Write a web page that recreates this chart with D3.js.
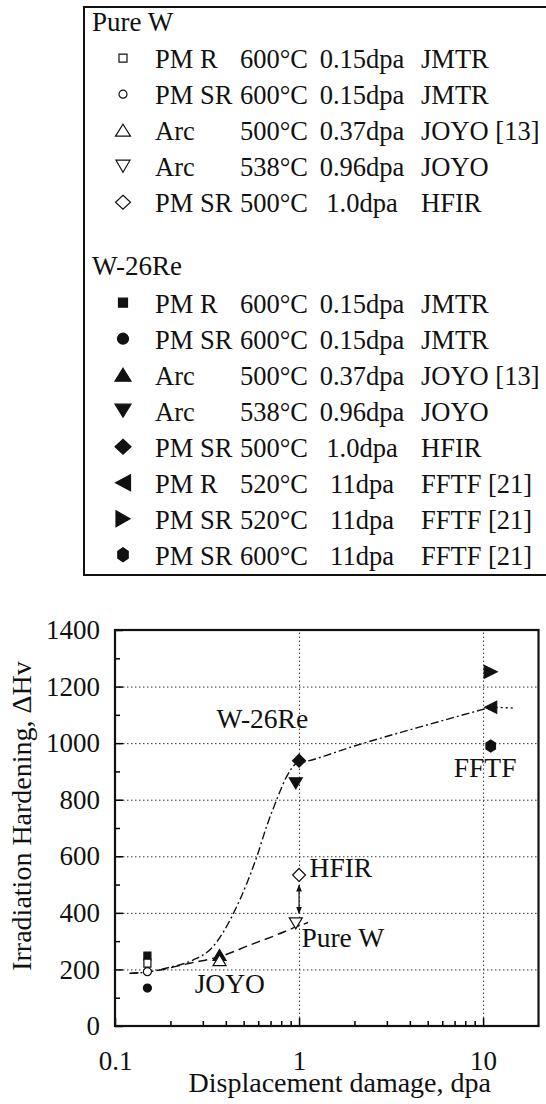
<!DOCTYPE html>
<html>
<head>
<meta charset="utf-8">
<script src="https://cdn.jsdelivr.net/npm/d3@7"></script>
<style>
  body { margin: 0; background: #fff; }
  svg text { font-family: "Liberation Serif", "Times New Roman", serif; fill: #111; }
</style>
</head>
<body>
<div id="chart"></div>
<script>
// ---- data ----
const pureDpa = [0.15, 0.15, 0.37, 0.96, 1.0];
const pureHv = [222, 192, 233, 363, 534];
const pureRows = [
  ["PM R", "600°C", "0.15dpa", "JMTR"],
  ["PM SR", "600°C", "0.15dpa", "JMTR"],
  ["Arc", "500°C", "0.37dpa", "JOYO [13]"],
  ["Arc", "538°C", "0.96dpa", "JOYO"],
  ["PM SR", "500°C", "1.0dpa", "HFIR"]
];
const reDpa = [0.15, 0.15, 0.37, 0.96, 1.0, 11, 11, 11];
const reHv = [247, 134, 251, 858, 938, 1127, 1252, 990];
const reRows = [
  ["PM R", "600°C", "0.15dpa", "JMTR"],
  ["PM SR", "600°C", "0.15dpa", "JMTR"],
  ["Arc", "500°C", "0.37dpa", "JOYO [13]"],
  ["Arc", "538°C", "0.96dpa", "JOYO"],
  ["PM SR", "500°C", "1.0dpa", "HFIR"],
  ["PM R", "520°C", "11dpa", "FFTF [21]"],
  ["PM SR", "520°C", "11dpa", "FFTF [21]"],
  ["PM SR", "600°C", "11dpa", "FFTF [21]"]
];

// trend lines (hand traced)
const reFitDpa = [0.12, 0.155, 0.2, 0.265, 0.34, 0.44, 0.52, 0.59, 0.665, 0.755, 0.855, 0.97, 1.07, 2, 5, 11];
const reFitHv = [186, 192, 208, 233, 280, 398, 504, 599, 704, 799, 881, 928, 934, 990, 1065, 1127];
const reExtDpa = [11, 15];
const reExtHv = [1127, 1124];
const pureFitDpa = [0.12, 0.155, 0.255, 0.37, 0.54, 0.755, 0.97, 1.12];
const pureFitHv = [186, 192, 222, 245, 286, 322, 351, 366];
const arrowHv = [398, 498];

const notes = [
  { t: "W-26Re", dpa: 0.356, hv: 1053 },
  { t: "JOYO", dpa: 0.271, hv: 117 },
  { t: "HFIR", dpa: 1.14, hv: 528 },
  { t: "Pure W", dpa: 1.03, hv: 280 },
  { t: "FFTF", dpa: 6.93, hv: 881 }
];

const yTicks = [0, 200, 400, 600, 800, 1000, 1200, 1400];
const xTicks = [0.1, 1, 10];

// ---- marker styles ----
const pureShapes = ["square", "circle", "triUp", "triDown", "diamond"];
const reShapes = ["square", "circle", "triUp", "triDown", "diamond", "triLeft", "triRight", "hexagon"];
const plotSize = { square: [7, 8], circle: [8, 8], triUp: [13, 11], triDown: [13, 11], diamond: [13, 13], triLeft: [12, 12], triRight: [13, 13], hexagon: [11, 12] };
const legendPureSize = { square: [8, 8], circle: [8, 8], triUp: [15, 12], triDown: [14, 12], diamond: [15, 14] };
const legendReSize = { square: [9, 9], circle: [11, 11], triUp: [16, 13], triDown: [16, 13], diamond: [16, 15], triLeft: [15, 16], triRight: [14, 16], hexagon: [12, 14] };

function shapePath(shape, w, h) {
  const p = d3.path();
  const a = w / 2, b = h / 2;
  if (shape === "square") { p.rect(-a, -b, w, h); }
  else if (shape === "circle") { p.moveTo(a, 0); p.arc(0, 0, a, 0, 2 * Math.PI); }
  else if (shape === "triUp") { p.moveTo(0, -b); p.lineTo(a, b); p.lineTo(-a, b); p.closePath(); }
  else if (shape === "triDown") { p.moveTo(0, b); p.lineTo(a, -b); p.lineTo(-a, -b); p.closePath(); }
  else if (shape === "diamond") { p.moveTo(0, -b); p.lineTo(a, 0); p.lineTo(0, b); p.lineTo(-a, 0); p.closePath(); }
  else if (shape === "triLeft") { p.moveTo(-a, 0); p.lineTo(a, -b); p.lineTo(a, b); p.closePath(); }
  else if (shape === "triRight") { p.moveTo(a, 0); p.lineTo(-a, -b); p.lineTo(-a, b); p.closePath(); }
  else if (shape === "hexagon") {
    for (let i = 0; i < 6; i++) {
      const ang = Math.PI / 6 + i * Math.PI / 3;
      const px = a * Math.cos(ang), py = b * Math.sin(ang);
      if (i === 0) p.moveTo(px, py); else p.lineTo(px, py);
    }
    p.closePath();
  }
  return p.toString();
}

const W = 546, H = 1104;
const svg = d3.select("#chart").append("svg").attr("width", W).attr("height", H);

// ---- legend box ----
svg.append("rect")
  .attr("x", 84).attr("y", 7).attr("width", 480).attr("height", 568)
  .attr("fill", "none").attr("stroke", "#111").attr("stroke-width", 2);

function legendGroup(title, rows, shapes, sizes, filled, y0) {
  svg.append("text").attr("x", 92).attr("y", y0).style("font-size", "27px").text(title);
  const g = svg.selectAll(null).data(rows).enter().append("g")
    .attr("transform", (d, i) => `translate(0,${y0 + 37.7 + i * 36})`);
  g.append("path")
    .attr("transform", "translate(123,-10)")
    .attr("d", (d, i) => shapePath(shapes[i], sizes[shapes[i]][0], sizes[shapes[i]][1]))
    .attr("fill", filled ? "#111" : "#fff")
    .attr("stroke", "#111").attr("stroke-width", 1.2);
  const t = (xp, anchor, k) => g.append("text").attr("x", xp).attr("text-anchor", anchor)
    .style("font-size", "26.5px").text(d => d[k]);
  t(155, "start", 0);
  t(240, "start", 1);
  t(362, "middle", 2);
  t(421, "start", 3);
}
legendGroup("Pure W", pureRows, pureShapes, legendPureSize, false, 30.5);
legendGroup("W-26Re", reRows, reShapes, legendReSize, true, 275);

// ---- plot ----
const pL = 115, pR = 538.5, pT = 630, pB = 1026;
const x = d3.scaleLog().domain([0.1, 20]).range([pL, pR]);
const y = d3.scaleLinear().domain([0, 1400]).range([pB, pT]);

// gridlines
svg.append("g").attr("transform", `translate(${pL},0)`)
  .call(d3.axisLeft(y).tickValues([200, 400, 600, 800, 1000, 1200]).tickSize(-(pR - pL)).tickFormat(""))
  .call(g => g.select(".domain").remove())
  .selectAll("line").attr("stroke", "#333").attr("stroke-width", 1).attr("stroke-dasharray", "1.5,2.5");
svg.append("g").attr("transform", `translate(0,${pB})`)
  .call(d3.axisBottom(x).tickValues([1, 10]).tickSize(-(pB - pT)).tickFormat(""))
  .call(g => g.select(".domain").remove())
  .selectAll("line").attr("stroke", "#333").attr("stroke-width", 1).attr("stroke-dasharray", "1.5,2.5");

// axes with inward ticks
const yAxis = svg.append("g").attr("transform", `translate(${pL},0)`)
  .call(d3.axisLeft(y).tickValues(yTicks).tickFormat(d3.format("d"))
    .tickSizeInner(-8).tickSizeOuter(0).tickPadding(15));
yAxis.select(".domain").remove();
yAxis.attr("font-family", null).attr("font-size", null);
yAxis.selectAll("text").style("font-size", "27px");
yAxis.selectAll("line").attr("stroke-width", 1.5);

svg.append("g").attr("transform", `translate(${pL},0)`)
  .call(d3.axisLeft(y).tickValues(d3.range(100, 1400, 200)).tickSize(-5).tickFormat(""))
  .call(g => g.select(".domain").remove())
  .selectAll("line").attr("stroke-width", 1.5);

const xAxis = svg.append("g").attr("transform", `translate(0,${pB})`)
  .call(d3.axisBottom(x).tickValues(xTicks).tickFormat(d => String(d))
    .tickSizeInner(-8).tickSizeOuter(0).tickPadding(25));
xAxis.select(".domain").remove();
xAxis.attr("font-family", null).attr("font-size", null);
xAxis.selectAll("text").style("font-size", "27px");
xAxis.selectAll("line").attr("stroke-width", 1.5);

const minorX = [];
[0.1, 1, 10].forEach(dec => { for (let k = 2; k <= 9; k++) if (dec * k < 20) minorX.push(dec * k); });
svg.append("g").attr("transform", `translate(0,${pB})`)
  .call(d3.axisBottom(x).tickValues(minorX).tickSize(-5).tickFormat(""))
  .call(g => g.select(".domain").remove())
  .selectAll("line").attr("stroke-width", 1.5);

// frame
svg.append("rect")
  .attr("x", pL).attr("y", pT).attr("width", pR - pL).attr("height", pB - pT)
  .attr("fill", "none").attr("stroke", "#111").attr("stroke-width", 2.2);

// axis titles
svg.append("text")
  .attr("x", (pL + pR) / 2 + 13).attr("y", 1092)
  .attr("text-anchor", "middle").style("font-size", "28px")
  .text("Displacement damage, dpa");
svg.append("text")
  .attr("transform", "rotate(-90)")
  .attr("x", -816).attr("y", 31)
  .attr("text-anchor", "middle").style("font-size", "28px")
  .text("Irradiation Hardening, ΔHv");

// trend lines
const line = d3.line().x(d => x(d[0])).y(d => y(d[1])).curve(d3.curveMonotoneX);
svg.append("path")
  .attr("d", line(d3.zip(reFitDpa, reFitHv)))
  .attr("fill", "none").attr("stroke", "#111").attr("stroke-width", 1.4)
  .attr("stroke-dasharray", "8,3,2,3");
svg.append("path")
  .attr("d", line(d3.zip(reExtDpa, reExtHv)))
  .attr("fill", "none").attr("stroke", "#111").attr("stroke-width", 1.4)
  .attr("stroke-dasharray", "2,3");
svg.append("path")
  .attr("d", line(d3.zip(pureFitDpa, pureFitHv)))
  .attr("fill", "none").attr("stroke", "#111").attr("stroke-width", 1.4)
  .attr("stroke-dasharray", "9,5");

// double arrow HFIR vs Pure W
const defs = svg.append("defs");
defs.append("marker").attr("id", "ah").attr("viewBox", "0 0 10 10")
  .attr("refX", 9).attr("refY", 5).attr("markerWidth", 6).attr("markerHeight", 6)
  .attr("orient", "auto-start-reverse")
  .append("path").attr("d", "M0,1 L10,5 L0,9 Z").attr("fill", "#111");
svg.append("line")
  .attr("x1", x(1)).attr("x2", x(1))
  .attr("y1", y(arrowHv[0])).attr("y2", y(arrowHv[1]))
  .attr("stroke", "#111").attr("stroke-width", 1.2)
  .attr("marker-start", "url(#ah)").attr("marker-end", "url(#ah)");

// markers
function drawPoints(dpa, hv, shapes, filled) {
  svg.selectAll(null).data(d3.range(dpa.length)).enter().append("path")
    .attr("transform", i => `translate(${x(dpa[i])},${y(hv[i])})`)
    .attr("d", i => shapePath(shapes[i], plotSize[shapes[i]][0], plotSize[shapes[i]][1]))
    .attr("fill", filled ? "#111" : "#fff")
    .attr("stroke", "#111").attr("stroke-width", 1.2);
}
drawPoints(reDpa, reHv, reShapes, true);
drawPoints(pureDpa, pureHv, pureShapes, false);

// annotations
svg.selectAll(null).data(notes).enter().append("text")
  .attr("x", d => x(d.dpa)).attr("y", d => y(d.hv))
  .style("font-size", "27.5px")
  .text(d => d.t);
</script>
</body>
</html>
